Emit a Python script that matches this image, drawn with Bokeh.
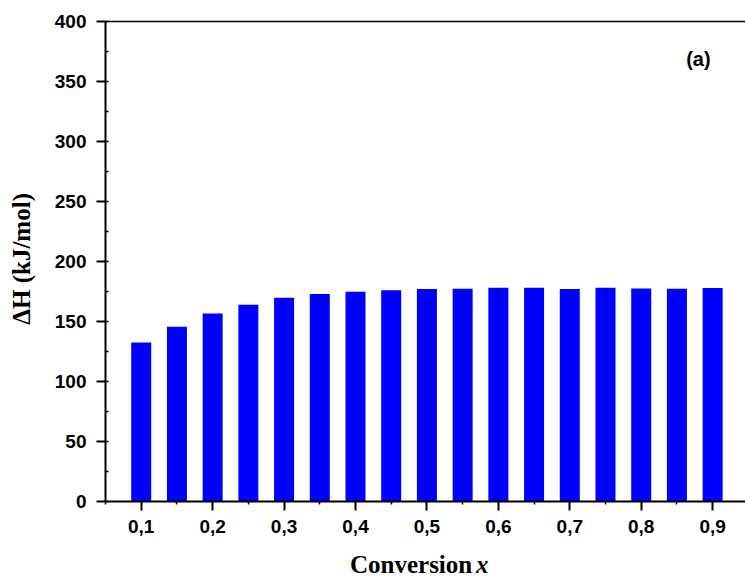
import math
from bokeh.plotting import figure
from bokeh.models import (Label, FixedTicker, SingleIntervalTicker, Range1d,
                          ColumnDataSource, LinearAxis)
from bokeh.embed import file_html
from bokeh.resources import INLINE

# Enthalpy change per conversion step
conversion = [0.10, 0.15, 0.20, 0.25, 0.30, 0.35, 0.40, 0.45, 0.50,
              0.55, 0.60, 0.65, 0.70, 0.75, 0.80, 0.85, 0.90]
delta_h = [132.2, 145.3, 156.4, 163.7, 169.5, 172.6, 174.5, 175.9, 176.8,
           177.1, 177.9, 177.9, 176.8, 177.9, 177.3, 177.1, 177.6]

x_ticks = [0.1, 0.2, 0.3, 0.4, 0.5, 0.6, 0.7, 0.8, 0.9]
x_tick_labels = ["0,1", "0,2", "0,3", "0,4", "0,5", "0,6", "0,7", "0,8", "0,9"]
x_minor = [0.05, 0.15, 0.25, 0.35, 0.45, 0.55, 0.65, 0.75, 0.85]

X_AXIS_SPAN = (0.05, 0.946)
Y_AXIS_SPAN = (0, 400)

TICK_FONT = "Liberation Sans"
LABEL_FONT = "Liberation Serif"

# The frame fills the whole canvas; the axes are pinned at x = 0.05 and y = 0
# and the margins around them hold tick labels and titles.
p = figure(width=745, height=578, output_backend="svg", toolbar_location=None,
           x_range=Range1d(-0.097, 0.946), y_range=Range1d(-64.6, 417.5),
           min_border_left=0, min_border_right=0, min_border_top=0,
           min_border_bottom=0)
p.outline_line_color = None
p.grid.grid_line_color = None
p.background_fill_color = "white"
p.border_fill_color = "white"

src = ColumnDataSource(dict(x=conversion, top=delta_h))
p.vbar(x="x", top="top", width=0.028, bottom=0, source=src,
       fill_color="#0000FF", line_color=None)

# x axis
xa = p.xaxis[0]
xa.fixed_location = 0
xa.bounds = X_AXIS_SPAN
xa.ticker = FixedTicker(ticks=x_ticks, minor_ticks=x_minor)
xa.major_label_overrides = {t: l for t, l in zip(x_ticks, x_tick_labels)}
xa.axis_line_width = 2
xa.major_tick_line_width = 2
xa.minor_tick_line_width = 1.5
xa.major_tick_out = 9
xa.major_tick_in = 0
xa.minor_tick_out = 3
xa.minor_tick_in = 0
xa.major_label_standoff = 10
xa.major_label_text_font = TICK_FONT
xa.major_label_text_font_style = "bold"
xa.major_label_text_font_size = "19px"
xa.major_label_text_color = "black"

# y axis
ya = p.yaxis[0]
ya.fixed_location = X_AXIS_SPAN[0]
ya.bounds = Y_AXIS_SPAN
ya.ticker = SingleIntervalTicker(interval=50, num_minor_ticks=2)
ya.axis_line_width = 2
ya.major_tick_line_width = 2
ya.minor_tick_line_width = 1.5
ya.major_tick_out = 9
ya.major_tick_in = 0
ya.minor_tick_out = 0
ya.minor_tick_in = 3
ya.major_label_standoff = 10
ya.major_label_text_font = TICK_FONT
ya.major_label_text_font_style = "bold"
ya.major_label_text_font_size = "19px"
ya.major_label_text_color = "black"

# top border line (an axis without ticks or labels)
top = LinearAxis(fixed_location=Y_AXIS_SPAN[1], bounds=X_AXIS_SPAN,
                 ticker=FixedTicker(ticks=[]), axis_line_width=1.5,
                 major_tick_out=0, major_tick_in=0, minor_tick_out=0, minor_tick_in=0,
                 major_label_text_font_size="0px")
p.add_layout(top, "above")

# y axis title
p.add_layout(Label(x=-0.0676, y=202, text="ΔH (kJ/mol)", angle=math.pi / 2,
                   text_align="center", text_baseline="middle", text_font=LABEL_FONT,
                   text_font_style="bold", text_font_size="25px", text_color="black"))

# x axis title with italic variable
p.add_layout(Label(x=0.5634, y=-52.9, text="Conversion", text_align="right",
                   text_baseline="alphabetic", text_font=LABEL_FONT,
                   text_font_style="bold", text_font_size="25px", text_color="black"))
p.add_layout(Label(x=0.5688, y=-52.9, text="x", text_align="left",
                   text_baseline="alphabetic", text_font=LABEL_FONT,
                   text_font_style="bold italic", text_font_size="25px", text_color="black"))

# panel tag
p.add_layout(Label(x=0.880, y=369, text="(a)", text_align="center",
                   text_baseline="alphabetic", text_font=TICK_FONT,
                   text_font_style="bold", text_font_size="20px", text_color="black"))

open("out.html", "w").write(file_html(p, INLINE))
